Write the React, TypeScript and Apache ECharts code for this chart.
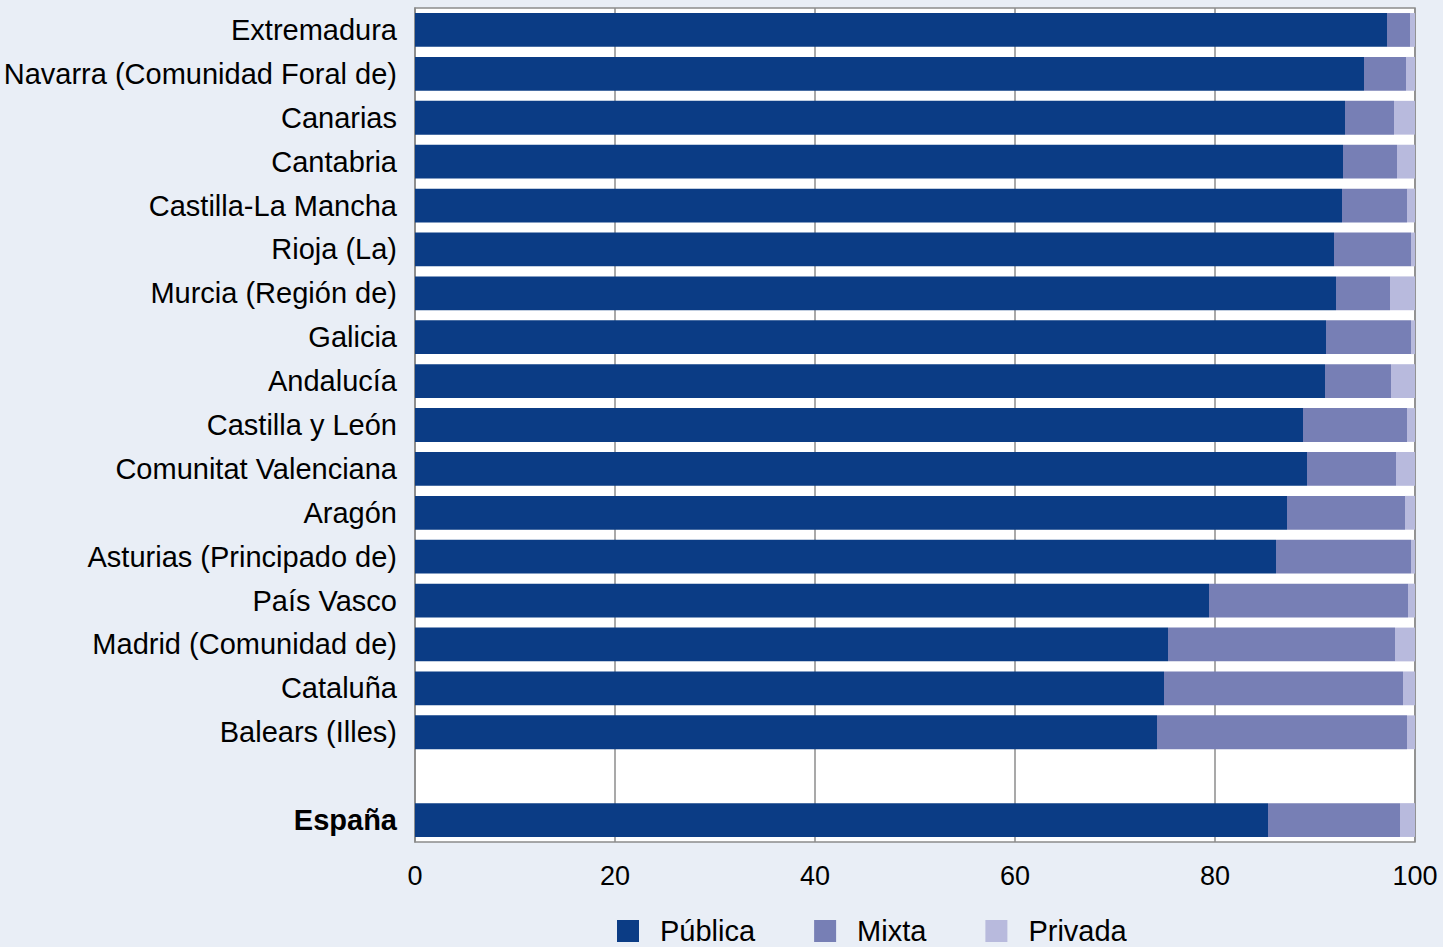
import React, { useEffect, useRef } from "react";
import * as echarts from "echarts";

const categories = [
  "Extremadura",
  "Navarra (Comunidad Foral de)",
  "Canarias",
  "Cantabria",
  "Castilla-La Mancha",
  "Rioja (La)",
  "Murcia (Región de)",
  "Galicia",
  "Andalucía",
  "Castilla y León",
  "Comunitat Valenciana",
  "Aragón",
  "Asturias (Principado de)",
  "País Vasco",
  "Madrid (Comunidad de)",
  "Cataluña",
  "Balears (Illes)",
  " ",
  "España",
];

const publica = [97.2, 94.9, 93.0, 92.8, 92.7, 91.9, 92.1, 91.1, 91.0, 88.8, 89.2, 87.2, 86.1, 79.4, 75.3, 74.9, 74.2, null, 85.3];
const mixta = [2.3, 4.2, 4.9, 5.4, 6.5, 7.7, 5.4, 8.5, 6.6, 10.4, 8.9, 11.8, 13.5, 19.9, 22.7, 23.9, 25.0, null, 13.2];
const privada = [0.5, 0.9, 2.1, 1.8, 0.8, 0.4, 2.5, 0.4, 2.4, 0.8, 1.9, 1.0, 0.4, 0.7, 2.0, 1.2, 0.8, null, 1.5];

const seriesNames = ["Pública", "Mixta", "Privada"];
const colors = ["#0B3C85", "#777FB5", "#B8BADD"];
const xTicks = [0, 20, 40, 60, 80, 100];

export default function App() {
  const ref = useRef<HTMLDivElement>(null);
  useEffect(() => {
    if (!ref.current) return;
    const chart = echarts.init(ref.current, null, { renderer: "svg" });
    const font = "Liberation Sans, Arial, sans-serif";
    const dataSets = [publica, mixta, privada];
    chart.setOption({
      animation: false,
      backgroundColor: "#E9EEF6",
      textStyle: { fontFamily: font },
      grid: {
        left: 415,
        right: 28,
        top: 8,
        bottom: 105,
        show: true,
        backgroundColor: "#FFFFFF",
        borderColor: "#8C8C8C",
        borderWidth: 1.5,
      },
      legend: {
        top: 915,
        left: 617,
        padding: 0,
        itemWidth: 22,
        itemHeight: 22,
        itemGap: 59,
        icon: "rect",
        textStyle: { fontSize: 29, lineHeight: 32, color: "#000", fontFamily: font, padding: [0, 0, 0, 16] },
        data: seriesNames,
      },
      xAxis: {
        type: "value",
        min: xTicks[0],
        max: xTicks[xTicks.length - 1],
        interval: 20,
        axisLine: { show: false },
        axisTick: { show: false },
        axisLabel: { fontSize: 27, color: "#000", margin: 20, fontFamily: font },
        splitLine: { show: true, lineStyle: { color: "#8C8C8C", width: 1.5 } },
      },
      yAxis: {
        type: "category",
        inverse: true,
        data: categories,
        axisLine: { show: true, lineStyle: { color: "#8C8C8C", width: 1.5 } },
        axisTick: { show: false },
        axisLabel: {
          fontSize: 29,
          color: "#000",
          margin: 18,
          fontFamily: font,
          formatter: (v: string) => (v === "España" ? "{b|" + v + "}" : v),
          rich: { b: { fontWeight: "bold", fontSize: 29, color: "#000", fontFamily: font } },
        },
      },
      series: seriesNames.map((name, i) => ({
        name,
        type: "bar",
        stack: "total",
        barCategoryGap: "23%",
        itemStyle: { color: colors[i] },
        data: dataSets[i],
      })),
    });
    return () => chart.dispose();
  }, []);
  return <div ref={ref} style={{ width: 1443, height: 947, position: "absolute", left: 0, top: 0 }} />;
}
